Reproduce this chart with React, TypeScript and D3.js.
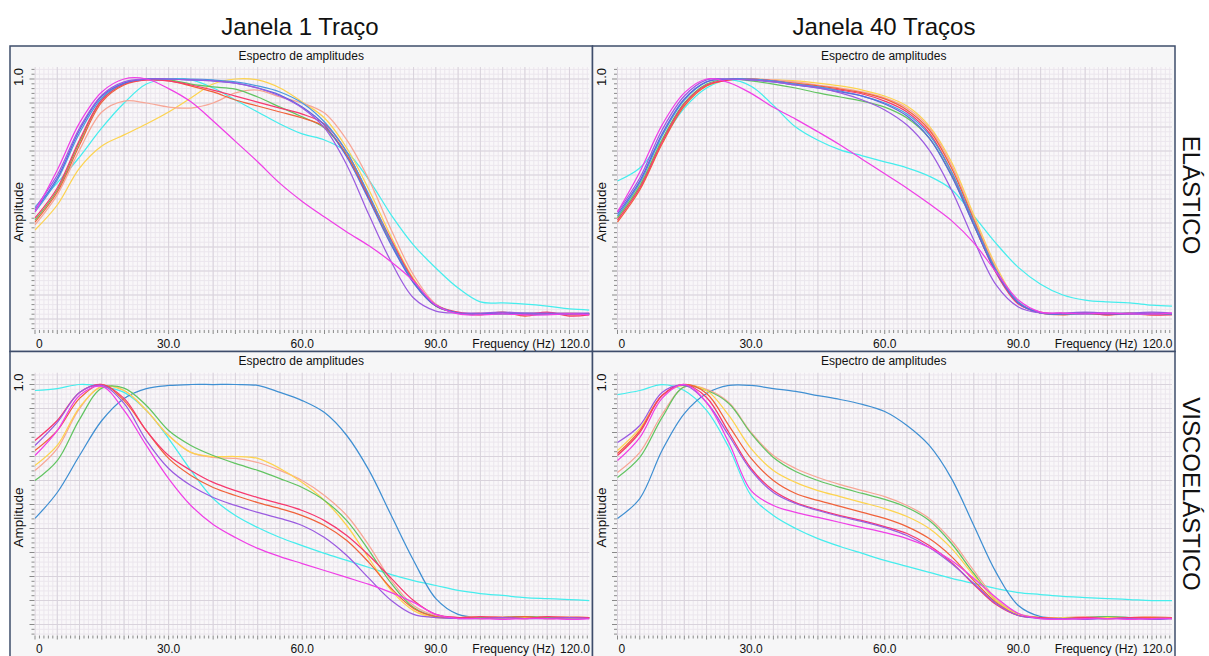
import React from "react";
import * as d3 from "d3";

// Frequency samples (Hz) shared by every spectrum
const FREQ = [0, 5, 10, 15, 20, 25, 30, 35, 40, 45, 50, 55, 60, 65, 70, 75, 80, 85, 90, 95, 100, 105, 110, 115, 120, 124.5];

const COLUMN_TITLES = ["Janela 1 Traço", "Janela 40 Traços"];
const ROW_TITLES = ["ELÁSTICO", "VISCOELÁSTICO"];
const PANEL_TITLE = "Espectro de amplitudes";
const X_TICKS = [0, 30, 60, 90, 120];
const X_TICK_LABELS = ["0", "30.0", "60.0", "90.0", "120.0"];
const X_LABEL = "Frequency (Hz)";
const Y_LABEL = "Amplitude";
const Y_TICK = 1.0;
const Y_TICK_LABEL = "1.0";

const COLORS: Record<string, string> = {
  magenta: "#ef3fe6",
  blue: "#5a69de",
  violet: "#9b5be0",
  steel: "#4b9ade",
  green: "#62c462",
  orange: "#f0623a",
  red: "#f6396e",
  salmon: "#f7a696",
  yellow: "#fdd34f",
  cyan: "#45eded",
};

// ELÁSTICO, Janela 1 Traço
const tlCyan = [.467, .567, .675, .796, .9, .979, 1, .996, .9625, .9125, .8625, .8125, .771, .746, .696, .579, .433, .308, .2125, .129, .071, .067, .0625, .054, .042, .0375];
const tlYellow = [.371, .475, .629, .721, .767, .8125, .8625, .921, .979, 1, .996, .9625, .904, .8375, .7125, .5375, .342, .167, .058, .025, .021, .025, .021, .021, .025, .021];
const tlSalmon = [.392, .517, .704, .8625, .908, .9, .883, .879, .9, .942, .954, .925, .9, .858, .746, .579, .371, .183, .0625, .025, .025, .021, .025, .025, .021, .025];
const tlGreen = [.4125, .5375, .7375, .9125, .979, 1, .996, .979, .967, .958, .925, .883, .842, .796, .683, .504, .317, .154, .054, .025, .021, .021, .021, .021, .021, .021];
const tlOrange = [.404, .529, .725, .904, .975, .996, .992, .971, .946, .9125, .8875, .8625, .8375, .8, .683, .504, .321, .154, .054, .025, .017, .029, .0125, .025, .017, .021];
const tlRed = [.421, .546, .746, .9125, .979, .996, .992, .975, .954, .929, .904, .879, .854, .8125, .696, .5125, .329, .1625, .058, .029, .021, .025, .017, .029, .0125, .017];
const tlSteel = [.446, .579, .775, .921, .983, 1, 1, 1, .996, .988, .971, .946, .9, .821, .696, .517, .321, .154, .058, .025, .021, .021, .025, .021, .021, .021];
const tlBlue = [.454, .5875, .7875, .929, .983, 1, 1, .996, .992, .983, .9625, .933, .883, .808, .675, .496, .308, .15, .054, .025, .021, .025, .021, .021, .021, .021];
const tlViolet = [.4625, .6, .796, .933, .988, 1, 1, .996, .992, .983, .9625, .929, .879, .796, .642, .433, .2375, .0875, .033, .025, .025, .029, .025, .025, .025, .025];
const tlMagenta = [.446, .621, .817, .946, 1, 1, .96, .905, .825, .74, .655, .565, .49, .425, .3625, .305, .2375, .158, .058, .021, .017, .021, .017, .017, .021, .017];

// ELÁSTICO, Janela 40 Traços
const trCyan = [.575, .629, .746, .879, .9625, .996, .97, .89, .8, .745, .705, .68, .655, .63, .595, .54, .43, .315, .215, .145, .1, .079, .071, .067, .058, .054];
const trYellow = [.425, .558, .746, .896, .971, .996, 1, .996, .992, .983, .971, .954, .929, .8875, .804, .654, .433, .221, .071, .025, .021, .025, .021, .021, .025, .021];
const trSalmon = [.417, .55, .742, .896, .975, .996, 1, .996, .988, .975, .9625, .946, .921, .879, .796, .642, .421, .2125, .071, .025, .025, .021, .025, .021, .025, .021];
const trGreen = [.421, .554, .746, .9, .979, 1, .992, .979, .9625, .942, .925, .908, .883, .8375, .754, .6, .392, .196, .067, .025, .021, .021, .021, .025, .021, .021];
const trOrange = [.404, .5375, .729, .8875, .971, .996, 1, .992, .983, .971, .958, .942, .917, .871, .7875, .629, .4125, .204, .067, .025, .017, .025, .017, .021, .017, .021];
const trRed = [.4125, .546, .7375, .896, .975, .996, 1, .992, .979, .967, .954, .9375, .908, .8625, .775, .6125, .396, .192, .0625, .029, .021, .025, .017, .025, .017, .017];
const trSteel = [.429, .567, .7625, .9125, .988, 1, 1, .992, .979, .967, .95, .929, .9, .854, .767, .6125, .404, .204, .071, .025, .021, .021, .025, .021, .021, .021];
const trBlue = [.4375, .575, .771, .917, .988, 1, .996, .988, .975, .9625, .946, .929, .896, .846, .754, .596, .392, .196, .067, .025, .021, .025, .021, .021, .025, .021];
const trViolet = [.446, .5875, .7875, .929, .996, 1, .996, .988, .975, .9625, .942, .9125, .871, .808, .704, .5375, .329, .142, .05, .025, .025, .029, .025, .025, .029, .025];
const trMagenta = [.446, .6125, .808, .942, 1, .985, .94, .882, .833, .78, .725, .665, .605, .545, .48, .41, .317, .196, .079, .029, .025, .021, .025, .021, .021, .025];

// VISCOELÁSTICO, Janela 1 Traço
const blCyan = [.975, .983, 1, .992, .967, .892, .775, .642, .525, .454, .404, .3625, .329, .296, .267, .2375, .208, .183, .1625, .142, .129, .121, .1125, .108, .104, .1];
const blSteel = [.442, .55, .704, .85, .942, .983, .996, 1, 1, 1, .996, .967, .933, .883, .7875, .642, .454, .267, .108, .042, .029, .029, .033, .029, .029, .029];
const blSalmon = [.642, .733, .9, .992, .975, .892, .7875, .717, .696, .692, .675, .642, .6, .5375, .454, .329, .183, .079, .0375, .029, .029, .033, .029, .029, .033, .029];
const blYellow = [.6625, .746, .905, .99, .975, .892, .7875, .717, .7, .7, .692, .65, .592, .517, .4125, .275, .142, .058, .029, .029, .033, .029, .029, .033, .029, .029];
const blGreen = [.6, .683, .855, .985, .985, .9125, .808, .746, .704, .671, .642, .608, .571, .517, .433, .308, .171, .071, .033, .029, .029, .029, .033, .029, .029, .029];
const blOrange = [.725, .808, .942, 1, .933, .808, .692, .621, .571, .5375, .508, .483, .454, .4125, .35, .258, .15, .067, .033, .029, .025, .029, .033, .025, .029, .029];
const blRed = [.767, .85, .967, 1, .942, .808, .704, .642, .592, .558, .529, .504, .475, .433, .371, .2875, .192, .1, .042, .029, .033, .029, .025, .033, .029, .029];
const blViolet = [.746, .842, .967, .996, .921, .767, .65, .579, .529, .496, .467, .442, .4125, .3625, .2875, .192, .1, .042, .029, .025, .025, .029, .025, .025, .029, .025];
const blMagenta = [.704, .808, .954, .992, .892, .746, .608, .496, .417, .3625, .317, .283, .254, .225, .196, .167, .133, .092, .042, .025, .025, .021, .025, .025, .021, .025];

// VISCOELÁSTICO, Janela 40 Traços
const brCyan = [.958, .975, 1, .975, .892, .7375, .5375, .454, .4, .358, .325, .296, .267, .242, .217, .192, .171, .15, .133, .125, .117, .1125, .108, .104, .1, .1];
const brSteel = [.442, .525, .725, .879, .9625, .996, .996, .983, .971, .954, .9375, .917, .8875, .829, .746, .608, .4125, .217, .079, .033, .029, .029, .033, .029, .029, .029];
const brSalmon = [.633, .717, .875, .99, .98, .925, .8, .704, .65, .6125, .583, .558, .533, .496, .442, .35, .225, .108, .046, .029, .029, .033, .029, .029, .033, .029];
const brGreen = [.6125, .696, .862, .99, .975, .921, .796, .696, .6375, .6, .571, .546, .521, .4875, .433, .3375, .2125, .1, .042, .029, .029, .029, .033, .029, .029, .029];
const brYellow = [.725, .817, .954, .996, .975, .871, .733, .642, .592, .558, .533, .508, .483, .45, .4, .317, .204, .1, .042, .029, .029, .025, .029, .029, .025, .029];
const brOrange = [.7125, .808, .954, 1, .9625, .829, .692, .6, .546, .517, .492, .467, .442, .408, .358, .283, .183, .092, .0375, .029, .025, .029, .025, .029, .029, .025];
const brRed = [.704, .8, .954, 1, .946, .8, .65, .558, .508, .479, .454, .433, .408, .379, .329, .258, .167, .083, .0375, .029, .025, .029, .025, .029, .025, .029];
const brViolet = [.758, .829, .967, .996, .925, .7875, .642, .55, .504, .475, .45, .429, .404, .371, .321, .254, .171, .0875, .0375, .025, .025, .021, .025, .025, .021, .025];
const brMagenta = [.683, .779, .942, 1, .925, .758, .558, .496, .467, .446, .425, .404, .383, .358, .321, .267, .192, .1125, .046, .025, .021, .025, .025, .021, .025, .025];

type Series = { color: string; values: number[] };
type PanelSpec = { row: number; col: number; series: Series[] };

const s = (color: string, values: number[]): Series => ({ color: COLORS[color], values });

const PANELS: PanelSpec[] = [
  {
    row: 0, col: 0,
    series: [s("cyan", tlCyan), s("yellow", tlYellow), s("salmon", tlSalmon), s("green", tlGreen), s("orange", tlOrange),
      s("red", tlRed), s("steel", tlSteel), s("blue", tlBlue), s("violet", tlViolet), s("magenta", tlMagenta)],
  },
  {
    row: 0, col: 1,
    series: [s("cyan", trCyan), s("yellow", trYellow), s("salmon", trSalmon), s("green", trGreen), s("orange", trOrange),
      s("red", trRed), s("steel", trSteel), s("blue", trBlue), s("violet", trViolet), s("magenta", trMagenta)],
  },
  {
    row: 1, col: 0,
    series: [s("cyan", blCyan), { color: "#3f8fd2", values: blSteel }, s("salmon", blSalmon), s("yellow", blYellow), s("green", blGreen),
      s("orange", blOrange), s("red", blRed), s("violet", blViolet), s("magenta", blMagenta)],
  },
  {
    row: 1, col: 1,
    series: [s("cyan", brCyan), { color: "#3f8fd2", values: brSteel }, s("salmon", brSalmon), s("green", brGreen), s("yellow", brYellow),
      s("orange", brOrange), s("red", brRed), s("violet", brViolet), s("magenta", brMagenta)],
  },
];

const W = 1209;
const H = 656;
const FONT = "'Liberation Sans', Arial, Helvetica, sans-serif";
const COL_X = [10, 592.5];
const ROW_Y = [46, 351.5];
const PANEL_W = 582.5;
const PANEL_H = 305.5;
const FRAME = "#3e4d6b";

function Panel({ spec, idx }: { spec: PanelSpec; idx: number }) {
  const x0 = COL_X[spec.col];
  const y0 = ROW_Y[spec.row];
  const left = x0 + 24.5;
  const right = x0 + 579.5;
  const top = y0 + 21;
  const bottom = y0 + 284;

  const sx = d3.scaleLinear().domain([0, 124.5]).range([left + 0.5, right]);
  const sy = d3.scaleLinear().domain([-0.0458, 1.05]).range([bottom, top]);

  const line = d3
    .line<number>()
    .x((_, i) => sx(FREQ[i]))
    .y((d) => sy(d))
    .curve(d3.curveCatmullRom.alpha(0.5));

  const minorX = d3.range(0, 125, 1);
  const majorX = d3.range(0, 125, 5);
  const minorY = d3.range(-0.04, 1.05, 0.02);
  const majorY = d3.range(0, 1.05, 0.1);
  const clipId = `plot-clip-${idx}`;
  const isMajorY = (v: number) => Math.abs(v * 10 - Math.round(v * 10)) < 0.01;

  return (
    <g>
      <rect x={x0} y={y0} width={PANEL_W} height={PANEL_H} fill="#f6f6f7" stroke={FRAME} strokeWidth={1.5} />
      <text x={x0 + PANEL_W / 2} y={y0 + 13.5} textAnchor="middle" fontSize={12} fontFamily={FONT} fill="#111">
        {PANEL_TITLE}
      </text>
      <clipPath id={clipId}>
        <rect x={left} y={top} width={right - left} height={bottom - top} />
      </clipPath>
      <rect x={left} y={top} width={right - left} height={bottom - top} fill="#f9f7f9" />
      <g clipPath={`url(#${clipId})`}>
        {minorX.map((f) => (
          <line key={`vx${f}`} x1={sx(f)} x2={sx(f)} y1={top} y2={bottom} stroke="#ebe6ed" strokeWidth={1} />
        ))}
        {minorY.map((v, i) => (
          <line key={`hy${i}`} x1={left} x2={right} y1={sy(v)} y2={sy(v)} stroke="#ebe6ed" strokeWidth={1} />
        ))}
        {majorX.map((f) => (
          <line key={`Vx${f}`} x1={sx(f)} x2={sx(f)} y1={top} y2={bottom} stroke="#d9d3dc" strokeWidth={1} />
        ))}
        {majorY.map((v, i) => (
          <line key={`Hy${i}`} x1={left} x2={right} y1={sy(v)} y2={sy(v)} stroke="#d9d3dc" strokeWidth={1} />
        ))}
        {spec.series.map((ser, i) => (
          <path key={i} d={line(ser.values) || ""} fill="none" stroke={ser.color} strokeWidth={1.25} />
        ))}
      </g>
      {/* axis ticks */}
      {minorX.map((f) => (
        <line key={`tx${f}`} x1={sx(f)} x2={sx(f)} y1={bottom} y2={bottom + (f % 5 === 0 ? 4 : 3)} stroke="#8a8a8a" strokeWidth={1} />
      ))}
      {minorY.map((v, i) => (
        <line key={`ty${i}`} x1={left} x2={left - (isMajorY(v) ? 5 : 3)} y1={sy(v)} y2={sy(v)} stroke="#8a8a8a" strokeWidth={1} />
      ))}
      {X_TICKS.map((t, i) => {
        const last = i === X_TICKS.length - 1;
        const first = i === 0;
        return (
          <text
            key={`xl${t}`}
            x={first ? sx(t) + 1 : last ? right + 0.5 : sx(t)}
            y={bottom + 17.5}
            textAnchor={first ? "start" : last ? "end" : "middle"}
            fontSize={12}
            fontFamily={FONT}
            fill="#111"
          >
            {X_TICK_LABELS[i]}
          </text>
        );
      })}
      <text x={right - 34.5} y={bottom + 17.5} textAnchor="end" fontSize={12} fontFamily={FONT} fill="#111">
        {X_LABEL}
      </text>
      <text
        transform={`translate(${left - 11.5},${sy(Y_TICK) - 2}) rotate(-90)`}
        textAnchor="middle"
        fontSize={13}
        fontFamily={FONT}
        fill="#111"
      >
        {Y_TICK_LABEL}
      </text>
      <text
        transform={`translate(${left - 11.5},${top + 145}) rotate(-90)`}
        textAnchor="middle"
        fontSize={13.5}
        fontFamily={FONT}
        fill="#111"
      >
        {Y_LABEL}
      </text>
    </g>
  );
}

export default function App() {
  return (
    <svg
      width={W}
      height={H}
      viewBox={`0 0 ${W} ${H}`}
      style={{ position: "absolute", left: 0, top: 0, background: "#ffffff" }}
    >
      <rect x={0} y={0} width={W} height={H} fill="#ffffff" />
      {COLUMN_TITLES.map((t, i) => (
        <text key={t} x={i === 0 ? 300 : 884} y={35} textAnchor="middle" fontSize={24} fontFamily={FONT} fill="#111">
          {t}
        </text>
      ))}
      {PANELS.map((p, i) => (
        <Panel key={i} spec={p} idx={i} />
      ))}
      {ROW_TITLES.map((t, i) => (
        <text
          key={t}
          transform={`translate(1183,${i === 0 ? 195 : 494}) rotate(90)`}
          textAnchor="middle"
          fontSize={24}
          fontFamily={FONT}
          fill="#111"
        >
          {t}
        </text>
      ))}
    </svg>
  );
}
